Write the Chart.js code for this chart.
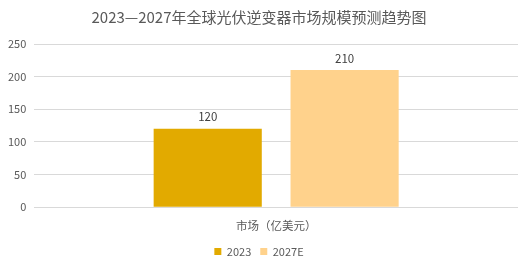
<!DOCTYPE html>
<html>
<head>
<meta charset="utf-8">
<script src="https://cdn.jsdelivr.net/npm/chart.js@4"></script>
<style>
  body { margin: 0; background: #fff; }
</style>
</head>
<body>
<canvas id="myChart" width="528" height="271"></canvas>
<script>
const categories = ['市场（亿美元）'];
const series2023 = [120];
const series2027 = [210];
const seriesNames = ['2023', '2027E'];

const FONT = "'Noto Sans CJK SC', 'DejaVu Sans', sans-serif";

// draw the value above each bar
const valueLabels = {
    id: 'valueLabels',
    afterDatasetsDraw(chart) {
        const c = chart.ctx;
        c.save();
        c.font = '11.5px ' + FONT;
        c.fillStyle = '#404040';
        c.textAlign = 'center';
        c.textBaseline = 'bottom';
        chart.data.datasets.forEach((ds, i) => {
            chart.getDatasetMeta(i).data.forEach((bar, j) => {
                c.fillText(ds.data[j], bar.x, bar.y - 6);
            });
        });
        c.restore();
    }
};

const ctx = document.getElementById('myChart').getContext('2d');
const myChart = new Chart(ctx, {
    type: 'bar',
    data: {
        labels: categories,
        datasets: [{
            label: seriesNames[0],
            data: series2023,
            backgroundColor: '#E2AA00',
            barPercentage: 0.79,
            categoryPercentage: 0.566
        }, {
            label: seriesNames[1],
            data: series2027,
            backgroundColor: '#FFD28C',
            barPercentage: 0.79,
            categoryPercentage: 0.566
        }]
    },
    options: {
        responsive: false,
        animation: false,
        layout: { padding: { left: 0, right: 10, top: 4, bottom: 4 } },
        plugins: {
            title: {
                display: true,
                text: '2023—2027年全球光伏逆变器市场规模预测趋势图',
                color: '#595959',
                font: { family: FONT, size: 15, weight: 'normal' },
                padding: { top: 4, bottom: 18 }
            },
            legend: {
                position: 'bottom',
                labels: {
                    color: '#595959',
                    font: { family: FONT, size: 11 },
                    boxWidth: 7,
                    boxHeight: 7,
                    padding: 9
                }
            },
            tooltip: { enabled: false }
        },
        scales: {
            x: {
                grid: { display: false },
                border: { display: false },
                ticks: { color: '#595959', font: { family: FONT, size: 11.5 }, padding: 4 }
            },
            y: {
                min: 0,
                max: 250,
                ticks: { stepSize: 50, color: '#595959', font: { family: FONT, size: 11 }, padding: 8 },
                grid: { color: '#D9D9D9', drawTicks: false },
                border: { display: false }
            }
        }
    },
    plugins: [valueLabels]
});
</script>
</body>
</html>
